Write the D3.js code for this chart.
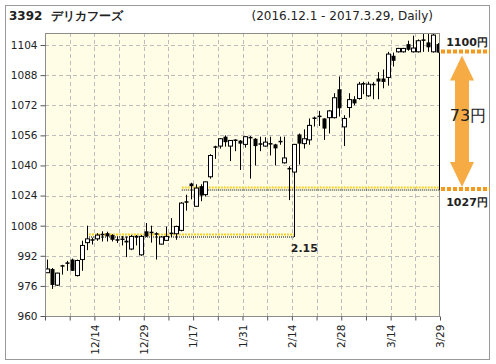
<!DOCTYPE html>
<html>
<head>
<meta charset="utf-8">
<script src="https://cdn.jsdelivr.net/npm/d3@7"></script>
<style>
body { margin:0; background:#fff; }
text { font-family: "DejaVu Sans", Verdana, sans-serif; fill:#222; }
</style>
</head>
<body>
<svg width="496" height="364"></svg>
<script>
// daily candles 2016.12.1 - 2017.3.29 (trading days only)
var dates = ["12/1","12/2","12/5","12/6","12/7","12/8","12/9","12/12","12/13","12/14",
  "12/15","12/16","12/19","12/20","12/21","12/22","12/26","12/27","12/28","12/29",
  "12/30","1/4","1/5","1/6","1/10","1/11","1/12","1/13","1/16","1/17",
  "1/18","1/19","1/20","1/23","1/24","1/25","1/26","1/27","1/30","1/31",
  "2/1","2/2","2/3","2/6","2/7","2/8","2/9","2/10","2/13","2/14",
  "2/15","2/16","2/17","2/20","2/21","2/22","2/23","2/24","2/27","2/28",
  "3/1","3/2","3/3","3/6","3/7","3/8","3/9","3/10","3/13","3/14",
  "3/15","3/16","3/17","3/21","3/22","3/23","3/24","3/27","3/28","3/29"]
var opens = [983,985,976.4,987,988.5,990,981.5,990,999,1000.8,
  1001,1003.7,1004,1003,1000.8,1001.2,1000,995.6,1002.6,992.5,
  1005,1004.8,1004,998.2,1000.2,1004.3,1003.7,1005.5,1021,1030.4,
  1018.3,1029,1024.5,1034,1050.2,1050.3,1055.3,1050.3,1053.8,1053.2,
  1051.2,1055.2,1054.2,1051.8,1050.3,1051.9,1051.2,1053.1,1041.4,1038.7,
  1036.5,1056.5,1051.6,1053.6,1065.5,1066.5,1065,1065.4,1065.4,1080.5,
  1060.5,1070.8,1075.2,1075.6,1083.8,1077,1083.4,1086.2,1086.2,1086.8,
  1098.3,1100.4,1100.4,1104.5,1100.4,1100.4,1107,1105.4,1100.4,1104.5]
var highs = [990,985.5,983,987.2,989.3,990.5,990,1000,1008,1001.6,
  1004,1005,1004.8,1003.5,1002.3,1002.5,1002.3,1003,1003,1003,
  1009.4,1008,1004.5,1002.5,1007.5,1012,1008,1020.5,1024.5,1030.8,
  1030,1030,1031.5,1046,1050.5,1054.5,1056,1053.5,1053.9,1053.5,
  1055.5,1055.6,1054.5,1055.3,1055,1055.3,1051.5,1055.3,1055.3,1039.6,
  1051.5,1057,1059.2,1065,1066,1069,1065,1069.5,1078.4,1087.3,
  1066.7,1078.4,1076.8,1084.4,1084.5,1084.5,1084.3,1089.6,1091,1100.4,
  1100,1102.5,1102.5,1106.3,1109,1107,1109.9,1109.9,1110.4,1105]
var lows = [983,974.4,976,982,984,984,981,984,995,998,
  1000,999.6,999.6,999.6,998.8,997.5,991.3,995,997.5,992,
  1002,999,990,998,1000,1002,1000.5,1005,1016,1022,
  1018,1021,1023.5,1033,1043.5,1049,1050,1042.3,1047.6,1037.6,
  1049.5,1033,1040,1047.6,1050,1045.3,1040,1051,1041,1021.6,
  1002,1040.5,1049,1051,1060.7,1061,1053.6,1057,1065,1066,
  1050.3,1065.4,1072,1075,1077.9,1076.5,1075.2,1075.2,1081,1082.4,
  1092.6,1100,1100,1101,1100,1100,1100.4,1100.4,1100,1100]
var closes = [985,976.5,982.8,986.5,988,984,989.5,997.5,1001,1000.2,
  1003,1003.3,1002.3,1000.5,1000.3,1000.7,999.1,1002.3,1002.2,1002.3,
  1002.3,1004.3,1003.5,1002,1002.3,1003.8,1007.6,1020,1020.5,1029,
  1028,1024,1031.3,1045.3,1049.8,1054.2,1052.4,1053.3,1053.4,1051.6,
  1055.3,1054.8,1050.3,1051.4,1052.4,1051.5,1049.1,1052.7,1044,1038.2,
  1051.2,1051.6,1054.2,1061.3,1065,1066.1,1059.6,1069,1076,1070.4,
  1065,1075,1073,1083.2,1083.4,1083.2,1083,1084.6,1084.4,1099.2,
  1095.6,1102.2,1102.2,1101.5,1102.4,1106.3,1106.6,1102.8,1109.3,1100]
var yTicks = [960,976,992,1008,1024,1040,1056,1072,1088,1104]

// annotation levels
var lowLevel = 1002, lowFrom = 8, lowTo = 50, lowLabel = "2.15"
var highLevel = 1027, highFrom = 27
var lastClose = 1100
var gapLabel = "73円"

var svg = d3.select("svg")
var plot = {left:45, right:440, top:33, bottom:316}

// outer frame
svg.append("rect").attr("x",5.5).attr("y",5.5).attr("width",484).attr("height",354)
  .attr("fill","#fff").attr("stroke","#9a9a9a")

svg.append("text").attr("x",9).attr("y",20).attr("font-size",12).attr("font-weight","bold")
  .text("3392\u00a0\u00a0デリカフーズ")
svg.append("text").attr("x",433).attr("y",20).attr("font-size",12).attr("text-anchor","end")
  .text("(2016.12.1 - 2017.3.29, Daily)")

var x = d3.scaleBand().domain(dates).range([plot.left, plot.right])
var bw = x.bandwidth()
var xEdge = d3.scaleLinear().domain([0, dates.length]).range([plot.left, plot.right])
var y = d3.scaleLinear().domain([960, 1110.4]).range([plot.bottom, plot.top])
var cx = function(d){ return x(d) + bw/2 }

svg.append("rect").attr("x",plot.left).attr("y",plot.top)
  .attr("width",plot.right-plot.left).attr("height",plot.bottom-plot.top)
  .attr("fill","#fffde6")

svg.append("defs").append("clipPath").attr("id","clip")
  .append("rect").attr("x",plot.left).attr("y",plot.top)
  .attr("width",plot.right-plot.left).attr("height",plot.bottom-plot.top)

// grid
var edgeTicks = d3.range(0, dates.length+1, 5)
svg.append("g").selectAll("line").data(yTicks.slice(1)).enter().append("line")
  .attr("x1",plot.left).attr("x2",plot.right)
  .attr("y1",function(d){ return Math.round(y(d))+0.5 })
  .attr("y2",function(d){ return Math.round(y(d))+0.5 })
  .attr("stroke","#bdbdbd").attr("stroke-dasharray","4,3")
svg.append("g").selectAll("line").data(edgeTicks.slice(1, -1)).enter().append("line")
  .attr("y1",plot.top).attr("y2",plot.bottom)
  .attr("x1",function(d){ return Math.round(xEdge(d))+0.5 })
  .attr("x2",function(d){ return Math.round(xEdge(d))+0.5 })
  .attr("stroke","#bdbdbd").attr("stroke-dasharray","4,3")

// level lines
var levels = svg.append("g").attr("clip-path","url(#clip)")
var levelLine = function(v, x1, x2)
{
  var yy = Math.round(y(v)) - 0.5
  levels.append("line").attr("x1",x1).attr("x2",x2).attr("y1",yy-2).attr("y2",yy-2)
    .attr("stroke","#f5d22c").attr("stroke-width",2).attr("stroke-dasharray","2,1")
  levels.append("line").attr("x1",x1).attr("x2",x2).attr("y1",yy+0.5).attr("y2",yy+0.5)
    .attr("stroke","#000").attr("stroke-dasharray","1,1")
}
levelLine(lowLevel, cx(dates[lowFrom])+2, cx(dates[lowTo]))
levelLine(highLevel, cx(dates[highFrom])+1, plot.right)

// candles
var candles = svg.append("g").attr("clip-path","url(#clip)")
  .selectAll("g").data(dates).enter().append("g")
candles.append("line")
  .attr("x1",function(d){ return Math.round(cx(d))+0.5 })
  .attr("x2",function(d){ return Math.round(cx(d))+0.5 })
  .attr("y1",function(d,i){ return y(highs[i]) })
  .attr("y2",function(d,i){ return y(lows[i]) })
  .attr("stroke","#000")
candles.append("rect")
  .attr("x",function(d,i){ return Math.round(cx(d)) - 1.5 })
  .attr("width",4)
  .attr("y",function(d,i){ return y(Math.max(opens[i],closes[i])) })
  .attr("height",function(d,i){ return Math.max(1.5, Math.abs(y(opens[i])-y(closes[i]))) })
  .attr("fill",function(d,i){ return closes[i] > opens[i] ? "#fff" : "#000" })
  .attr("stroke","#000").attr("stroke-width",function(d,i){ return closes[i] > opens[i] ? 1 : 0 })

// plot border
svg.append("rect").attr("x",plot.left+0.5).attr("y",plot.top+0.5)
  .attr("width",plot.right-plot.left-1).attr("height",plot.bottom-plot.top)
  .attr("fill","none").attr("stroke","#8c8c8c")

// axes
var yAxis = svg.append("g").attr("transform","translate("+(plot.left+0.5)+",0)")
  .call(d3.axisLeft(y).tickValues(yTicks).tickSize(5).tickPadding(3).tickFormat(d3.format("d")))
yAxis.select(".domain").remove()
yAxis.selectAll("line").attr("stroke","#555")
yAxis.selectAll("text").attr("font-size",10.5).attr("font-family","DejaVu Sans").attr("fill","#222")

var xAxis = svg.append("g").attr("transform","translate(0,"+(plot.bottom+0.5)+")")
  .call(d3.axisBottom(xEdge).tickValues(edgeTicks).tickSize(4)
    .tickFormat(function(k){ return (k > 0 && k % 10 == 0) ? dates[k-1] : "" }))
xAxis.select(".domain").remove()
xAxis.selectAll("line").attr("stroke","#555")
xAxis.selectAll("text").attr("font-size",10.5).attr("font-family","DejaVu Sans").attr("fill","#222")
  .attr("text-anchor","end").attr("transform","rotate(-90)")
  .attr("x",-8).attr("y",0).attr("dy","0.35em")

// last close to high level
svg.append("line").attr("x1",plot.right-0.5).attr("x2",plot.right-0.5)
  .attr("y1",y(lastClose)).attr("y2",y(highLevel)).attr("stroke","#000")

// right side annotation
var orange = "#f39a1c"
;[lastClose, highLevel].forEach(function(v)
{
  svg.append("line").attr("x1",441).attr("x2",490).attr("y1",y(v)-1).attr("y2",y(v)-1)
    .attr("stroke",orange).attr("stroke-width",4).attr("stroke-dasharray","4,2")
})
var arrowX = 462, arrowTop = y(lastClose) + 3, arrowBot = y(highLevel) - 3
var arrowPts = [[arrowX,arrowTop],[arrowX+12,arrowTop+25],[arrowX+7,arrowTop+25],
  [arrowX+7,arrowBot-25],[arrowX+12,arrowBot-25],[arrowX,arrowBot],
  [arrowX-12,arrowBot-25],[arrowX-7,arrowBot-25],[arrowX-7,arrowTop+25],[arrowX-12,arrowTop+25]]
svg.append("path").attr("d", d3.line()(arrowPts) + "Z").attr("fill","#f7ab45")

svg.append("text").attr("x",467).attr("y",46).attr("font-size",11).attr("font-weight","bold")
  .attr("text-anchor","middle").text(lastClose+"円")
svg.append("text").attr("x",467).attr("y",206).attr("font-size",11).attr("font-weight","bold")
  .attr("text-anchor","middle").text(highLevel+"円")
svg.append("text").attr("x",468).attr("y",121).attr("font-size",16)
  .attr("text-anchor","middle").attr("fill","#333").text(gapLabel)

svg.append("text").attr("x",cx(dates[lowTo])+10).attr("y",252).attr("font-size",11)
  .attr("font-weight","bold").attr("text-anchor","middle").attr("fill","#333").text(lowLabel)
</script>
</body>
</html>
